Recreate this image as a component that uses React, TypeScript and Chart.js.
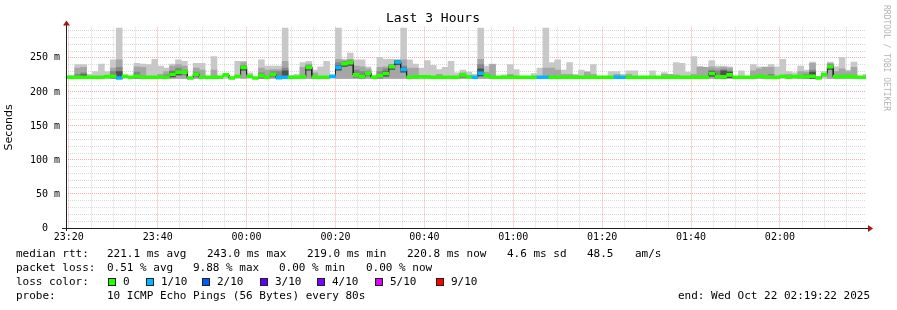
import React, { useEffect, useRef } from 'react';
import { Chart, registerables } from 'chart.js';

Chart.register(...registerables);

// ---- time frame (minutes after 23:00) ----
const START_MIN = 19 + 22 / 60; // 23:19:22
const END_MIN = START_MIN + 180; // 02:19:22
const STEP_MIN = 80 / 60; // one bar = 80 s
const FIRST_BAR_START = 20 - STEP_MIN; // bars aligned on 23:20:00

const TITLE = 'Last 3 Hours';
const Y_TITLE = 'Seconds';
const TIME_TICKS = [20, 40, 60, 80, 100, 120, 140, 160, 180];
const TIME_LABELS = ['23:20', '23:40', '00:00', '00:20', '00:40', '01:00', '01:20', '01:40', '02:00'];
const Y_TICKS = [0, 50, 100, 150, 200, 250];
const Y_LABELS = ['0  ', '50 m', '100 m', '150 m', '200 m', '250 m'];
const Y_MAX = 296;

// ---- data (ms), one entry per 80 s bar, 23:18:40 .. 02:18:40 ----
const MEDIAN = [
  221.6, 221.6, 221.6, 221.6, 221.6, 221.6, 221.6, 222.5, 223, 220.5,
  223, 221.6, 223, 221.6, 221.6, 221.6, 221.6, 221.6, 226, 229,
  229, 220.5, 226, 221.6, 221.6, 221.6, 221.6, 225, 220.5, 223,
  236, 223, 220.5, 224, 221.6, 226, 221, 221.6, 221.6, 221.6,
  222, 236, 221.6, 221.6, 221.6, 223, 236, 241.5, 243, 225,
  222.5, 227.5, 221.6, 224, 227, 237, 244, 233, 221.6, 222,
  222, 222, 221.6, 221.6, 221.6, 221.6, 221.6, 225, 222, 221.6,
  227.5, 224, 221.6, 221.6, 221.6, 221.6, 221.6, 221.6, 221.6, 221.6,
  221.6, 221.6, 221.6, 221.6, 221.6, 221.6, 221.6, 221.6, 221.6, 221.6,
  221.6, 221.6, 221.6, 221.6, 221.6, 221.6, 221.6, 221.6, 221.6, 221.6,
  221.6, 221.6, 221.6, 221.6, 221.6, 221.6, 221.6, 221.6, 221.6, 227,
  222, 222, 225, 221.6, 221.6, 221.6, 221.6, 223, 222, 221.6,
  221.6, 223, 221.6, 222.5, 222.5, 222.5, 223, 220.5, 225, 237,
  222.5, 222.5, 222.5, 222.5, 221.6, 221.6,
];
const LOSS = [
  0, 0, 0, 0, 0, 0, 0, 0, 0, 1,
  0, 0, 0, 0, 0, 0, 0, 0, 0, 0,
  0, 0, 0, 0, 0, 0, 0, 0, 0, 0,
  0, 0, 0, 0, 0, 0, 1, 1, 0, 0,
  0, 0, 0, 0, 0, 1, 1, 0, 0, 0,
  0, 0, 0, 0, 0, 0, 1, 1, 0, 0,
  0, 0, 0, 0, 0, 0, 0, 0, 0, 1,
  1, 0, 0, 0, 0, 0, 0, 0, 0, 0,
  1, 1, 0, 0, 0, 0, 0, 0, 0, 0,
  0, 0, 0, 1, 1, 0, 0, 0, 0, 0,
  0, 0, 0, 0, 0, 0, 0, 0, 0, 0,
  0, 0, 0, 0, 0, 0, 0, 0, 0, 0,
  0, 0, 0, 0, 0, 0, 0, 0, 0, 0,
  0, 0, 0, 0, 0, 0,
];
const SMOKE_MIN = [
  220, 220, 220, 220, 220, 220, 220, 220, 220, 219.5,
  220, 220, 220, 220, 220, 220, 220, 220, 220, 220,
  220, 219.5, 220, 220, 220, 220, 220, 220, 219.5, 220,
  220, 220, 219.5, 220, 220, 220, 219.5, 220, 220, 220,
  220, 220, 220, 220, 220, 220, 220, 220, 220, 220,
  220, 220, 220, 220, 220, 220, 220, 220, 220, 220,
  220, 220, 220, 220, 220, 220, 220, 220, 220, 220,
  220, 220, 220, 220, 220, 220, 220, 220, 220, 220,
  220, 220, 220, 220, 220, 220, 220, 220, 220, 220,
  220, 220, 220, 220, 220, 220, 220, 220, 220, 220,
  220, 220, 220, 220, 220, 220, 220, 220, 220, 220,
  220, 220, 220, 220, 220, 220, 220, 220, 220, 220,
  220, 220, 220, 220, 220, 220, 220, 219.5, 220, 220,
  220, 220, 220, 220, 220, 220,
];
const SMOKE_MAX = [
  222, 224, 240, 240, 226, 230, 241, 230, 247, 294,
  223, 222, 242, 241, 240, 248, 238, 235, 241, 247,
  245, 221, 242, 242, 222, 252, 222, 225, 221, 245,
  245, 228, 221, 247, 238, 238, 238, 294, 224, 226,
  243, 245, 232, 237, 245, 224, 294, 248, 257, 247,
  247, 237, 224, 251, 248, 248, 248, 294, 247, 241,
  235, 246, 239, 233, 236, 245, 228, 232, 229, 226,
  294, 238, 241, 222, 225, 240, 233, 222, 222, 227,
  235, 294, 243, 247, 232, 243, 226, 232, 230, 240,
  222, 222, 230, 230, 226, 231, 231, 222, 222, 231,
  222, 228.5, 226, 243, 242, 229, 252, 237, 236, 246,
  238, 238, 237, 222, 231, 223, 240, 237, 237, 240,
  237, 248, 230, 228, 238, 232, 244, 222, 230, 244,
  237, 251, 232, 244, 222, 226,
];
const SMOKE_P80 = [
  null, null, 235, 236, null, null, null, null, 235, 247,
  null, null, 237, 236, null, null, 226, 230, 238, 240,
  238, null, 235, 232, null, 232, null, null, null, null,
  243, null, null, 235, 232, 233, 233, 245, null, null,
  236, 241, 228, null, null, null, 248, 246, 248, 238,
  237, 234, null, 236, 237, 238, 246, 247, 235, 235,
  null, null, null, 226, null, null, null, 228, null, null,
  248, 229, 240, null, null, 226, null, null, null, null,
  null, 235, 235, 232, 226, 226, 224, 223, 229, 226,
  null, null, null, 226, null, 226, null, null, null, null,
  null, 226, 226, 225, null, null, 226, 237, 236, 237,
  235, 236, 235, null, null, null, 231, 234, 236, 236,
  null, null, 226, null, 230, 229, 242, null, null, 242,
  230, 234, 230, 236, null, null,
];
const SMOKE_P65 = [
  null, null, 226, 228, null, null, null, null, 230, 236,
  null, null, 229, null, null, null, null, 225, 231, 235,
  232, null, 229, null, null, null, null, null, null, null,
  238, null, null, 228, null, 230, 230, 235, null, null,
  null, 238, null, null, null, null, 243, 244, 246, 232,
  230, 230, null, 230, 234, 240, 246, 238, null, null,
  null, null, null, null, null, null, null, 226, null, null,
  240, null, null, null, null, 224, null, null, null, null,
  null, null, null, null, null, null, null, null, null, null,
  null, null, null, null, null, null, null, null, null, null,
  null, null, null, null, null, null, null, null, null, 232,
  231, 233, 231, null, null, null, null, null, null, 226,
  null, null, null, null, null, 226, 232, null, null, 240,
  null, null, null, null, null, null,
];
const SMOKE_P55 = [
  null, null, null, 225, null, null, null, null, null, 230,
  null, null, null, null, null, null, null, null, 229, 231,
  null, null, null, null, null, null, null, null, null, null,
  238, null, null, null, null, null, null, 231, null, null,
  null, 238, null, null, null, null, 239, 244, 245, null,
  null, null, null, null, 230, 239, 246, 235, null, null,
  null, null, null, null, null, null, null, null, null, null,
  234, null, null, null, null, null, null, null, null, null,
  null, null, null, null, null, null, null, null, null, null,
  null, null, null, null, null, null, null, null, null, null,
  null, null, null, null, null, null, null, null, null, 230,
  null, 231, 229, null, null, null, null, null, null, null,
  null, null, null, null, null, null, 229, null, null, 239,
  null, null, null, null, null, null,
];

// ---- legend text ----
const RTT_LEGEND = ['median rtt:', '221.1 ms avg', '243.0 ms max', '219.0 ms min', '220.8 ms now', '4.6 ms sd', '48.5', 'am/s'];
const PKT_LEGEND = ['packet loss:', '0.51 % avg', '9.88 % max', '0.00 % min', '0.00 % now'];
const LOSS_TITLE = 'loss color:';
const LOSS_LABELS = ['0', '1/10', '2/10', '3/10', '4/10', '5/10', '9/10'];
const LOSS_COLORS = ['#26ff00', '#00b8ff', '#0059ff', '#5e00ff', '#7e00ff', '#dd00ff', '#ff0000'];
const PROBE_LEGEND = ['probe:', '10 ICMP Echo Pings (56 Bytes) every 80s'];
const END_TEXT = 'end: Wed Oct 22 02:19:22 2025';
const WATERMARK = 'RRDTOOL / TOBI OETIKER';

// ---- layout / style ----
const MONO = '"DejaVu Sans Mono", monospace';
const GRID = 'rgba(150,150,150,0.35)';
const MGRID = 'rgba(235,90,90,0.5)';
const ARROW = '#a01818';
const BAND = 2.2;
const INNER_BELOW = 4;
const RTT_X = [16, 107, 207, 307, 407, 507, 587, 635];
const PKT_X = [16, 107, 193, 279, 366];
const SWATCH_X = [108, 146, 202, 260, 317, 375, 436];
const ROW_TOP = [247, 261, 275, 289];

const lossIndex = (n: number) => (n <= 5 ? n : 6);

const axesPlugin = {
  id: 'rrdAxes',
  afterDatasetsDraw(chart: any) {
    const { ctx, chartArea: a } = chart;
    ctx.save();
    ctx.lineWidth = 1;
    ctx.strokeStyle = '#202020';
    const yb = Math.round(a.bottom) + 0.5;
    const xl = Math.round(a.left) + 0.5;
    ctx.beginPath();
    ctx.moveTo(a.left - 4, yb);
    ctx.lineTo(a.right + 2, yb);
    ctx.moveTo(xl, a.bottom + 3);
    ctx.lineTo(xl, a.top - 3);
    ctx.stroke();
    ctx.fillStyle = ARROW;
    ctx.beginPath();
    ctx.moveTo(a.right + 2, yb - 3.5);
    ctx.lineTo(a.right + 7, yb);
    ctx.lineTo(a.right + 2, yb + 3.5);
    ctx.closePath();
    ctx.fill();
    ctx.beginPath();
    ctx.moveTo(xl - 3.5, a.top - 1);
    ctx.lineTo(xl, a.top - 6);
    ctx.lineTo(xl + 3.5, a.top - 1);
    ctx.closePath();
    ctx.fill();
    ctx.restore();
  },
};

export default function App() {
  const ref = useRef<HTMLCanvasElement>(null);

  useEffect(() => {
    const canvas = ref.current;
    if (!canvas) return;
    const centers = MEDIAN.map((_, i) => FIRST_BAR_START + (i + 0.5) * STEP_MIN);
    const outer = (top: (number | null)[]) =>
      centers
        .map((x, i) => ({ x, y: top[i] == null ? null : [SMOKE_MIN[i], top[i] as number] }))
        .filter((d) => d.y !== null);
    const inner = (top: (number | null)[]) =>
      centers
        .map((x, i) => ({
          x,
          y: top[i] == null ? null : [Math.max(SMOKE_MIN[i], MEDIAN[i] - INNER_BELOW), top[i] as number],
        }))
        .filter((d) => d.y !== null);
    const barCommon: any = {
      type: 'bar',
      grouped: false,
      barPercentage: 1,
      categoryPercentage: 1,
      borderWidth: 0,
    };
    const medianLine: { x: number; y: number }[] = [];
    MEDIAN.forEach((m, i) => {
      const s = FIRST_BAR_START + i * STEP_MIN;
      medianLine.push({ x: s, y: m }, { x: s + STEP_MIN, y: m });
    });
    const xTickValues: number[] = [];
    for (let v = 20; v < END_MIN; v += 5) xTickValues.push(v);
    const yTickValues: number[] = [];
    for (let v = 0; v < Y_MAX; v += 10) yTickValues.push(v);

    const chart = new Chart(canvas, {
      type: 'bar',
      data: {
        datasets: [
          { ...barCommon, data: outer(SMOKE_MAX), backgroundColor: '#c8c8c8', order: 10 },
          { ...barCommon, data: outer(SMOKE_P80), backgroundColor: '#a6a6a6', order: 9 },
          { ...barCommon, data: inner(SMOKE_P65), backgroundColor: '#878787', order: 8 },
          { ...barCommon, data: inner(SMOKE_P55), backgroundColor: '#505050', order: 7 },
          {
            type: 'line',
            data: medianLine,
            borderColor: '#202020',
            borderWidth: 1,
            pointRadius: 0,
            tension: 0,
            fill: false,
            order: 6,
          } as any,
          {
            ...barCommon,
            data: centers.map((x, i) => ({ x, y: [MEDIAN[i] - BAND, MEDIAN[i] + BAND] })),
            backgroundColor: MEDIAN.map((_, i) => LOSS_COLORS[lossIndex(LOSS[i])]),
            order: 1,
          },
        ],
      } as any,
      options: {
        responsive: false,
        animation: false,
        devicePixelRatio: 1,
        layout: { padding: { left: 0, right: 31, top: 0, bottom: 0 } },
        plugins: {
          legend: { display: false },
          tooltip: { enabled: false },
          title: {
            display: true,
            text: TITLE,
            color: '#000',
            font: { family: MONO, size: 13, weight: 'normal' },
            padding: { top: 11, bottom: 0 },
          },
        },
        scales: {
          x: {
            type: 'linear',
            min: START_MIN,
            max: END_MIN,
            bounds: 'data',
            offset: false,
            afterBuildTicks: (s: any) => {
              s.ticks = xTickValues.map((v) => ({ value: v }));
            },
            afterFit: (s: any) => {
              s.height = 82;
            },
            ticks: {
              autoSkip: false,
              maxRotation: 0,
              minRotation: 0,
              padding: 3,
              color: '#000',
              font: { family: MONO, size: 10 },
              callback: (v: any) => {
                const i = TIME_TICKS.indexOf(Number(v));
                return i >= 0 ? TIME_LABELS[i] : '';
              },
            },
            grid: {
              offset: false,
              drawTicks: false,
              lineWidth: 1,
              color: (c: any) => (c.tick && c.tick.value % 20 === 0 ? MGRID : GRID),
            },
            border: { display: false, dash: [1, 1] },
          },
          y: {
            type: 'linear',
            min: 0,
            max: Y_MAX,
            bounds: 'data',
            afterBuildTicks: (s: any) => {
              s.ticks = yTickValues.map((v) => ({ value: v }));
            },
            afterFit: (s: any) => {
              s.width = 66;
            },
            ticks: {
              autoSkip: false,
              padding: 6,
              color: '#000',
              font: { family: MONO, size: 10 },
              callback: (v: any) => {
                const i = Y_TICKS.indexOf(Number(v));
                return i >= 0 ? Y_LABELS[i] : '';
              },
            },
            grid: {
              drawTicks: false,
              lineWidth: 1,
              color: (c: any) =>
                c.tick && c.tick.value === 0 ? 'rgba(0,0,0,0)' : c.tick && c.tick.value % 50 === 0 ? MGRID : GRID,
            },
            border: { display: false, dash: [1, 1] },
            title: {
              display: true,
              text: Y_TITLE,
              color: '#000',
              font: { family: '"DejaVu Sans", sans-serif', size: 11 },
              padding: { top: 3, bottom: 0 },
            },
          },
        },
      } as any,
      plugins: [axesPlugin],
    });
    return () => chart.destroy();
  }, []);

  const textStyle = (left: number, top: number): React.CSSProperties => ({
    position: 'absolute',
    left,
    top,
    whiteSpace: 'pre',
    font: `11px ${MONO}`,
    lineHeight: '13px',
    color: '#000',
  });

  return (
    <div
      style={{
        position: 'fixed',
        left: 0,
        top: 0,
        width: 897,
        height: 310,
        background: '#ffffff',
        overflow: 'hidden',
      }}
    >
      <canvas
        ref={ref}
        width={897}
        height={310}
        style={{ position: 'absolute', left: 0, top: 0, width: 897, height: 310 }}
      />
      {RTT_LEGEND.map((s, i) => (
        <div key={'r' + i} style={textStyle(RTT_X[i], ROW_TOP[0])}>{s}</div>
      ))}
      {PKT_LEGEND.map((s, i) => (
        <div key={'p' + i} style={textStyle(PKT_X[i], ROW_TOP[1])}>{s}</div>
      ))}
      <div style={textStyle(16, ROW_TOP[2])}>{LOSS_TITLE}</div>
      {LOSS_LABELS.map((s, i) => (
        <React.Fragment key={'l' + i}>
          <div
            style={{
              position: 'absolute',
              left: SWATCH_X[i],
              top: ROW_TOP[2] + 3,
              width: 6,
              height: 6,
              border: '1px solid #202020',
              background: LOSS_COLORS[i],
            }}
          />
          <div style={textStyle(SWATCH_X[i] + 15, ROW_TOP[2])}>{s}</div>
        </React.Fragment>
      ))}
      <div style={textStyle(16, ROW_TOP[3])}>{PROBE_LEGEND[0]}</div>
      <div style={textStyle(107, ROW_TOP[3])}>{PROBE_LEGEND[1]}</div>
      <div style={textStyle(678, ROW_TOP[3])}>{END_TEXT}</div>
      <div
        style={{
          position: 'absolute',
          left: 882,
          top: 5,
          writingMode: 'vertical-rl',
          whiteSpace: 'pre',
          font: `8px ${MONO}`,
          lineHeight: '9px',
          color: '#b4b4b4',
        }}
      >
        {WATERMARK}
      </div>
    </div>
  );
}
